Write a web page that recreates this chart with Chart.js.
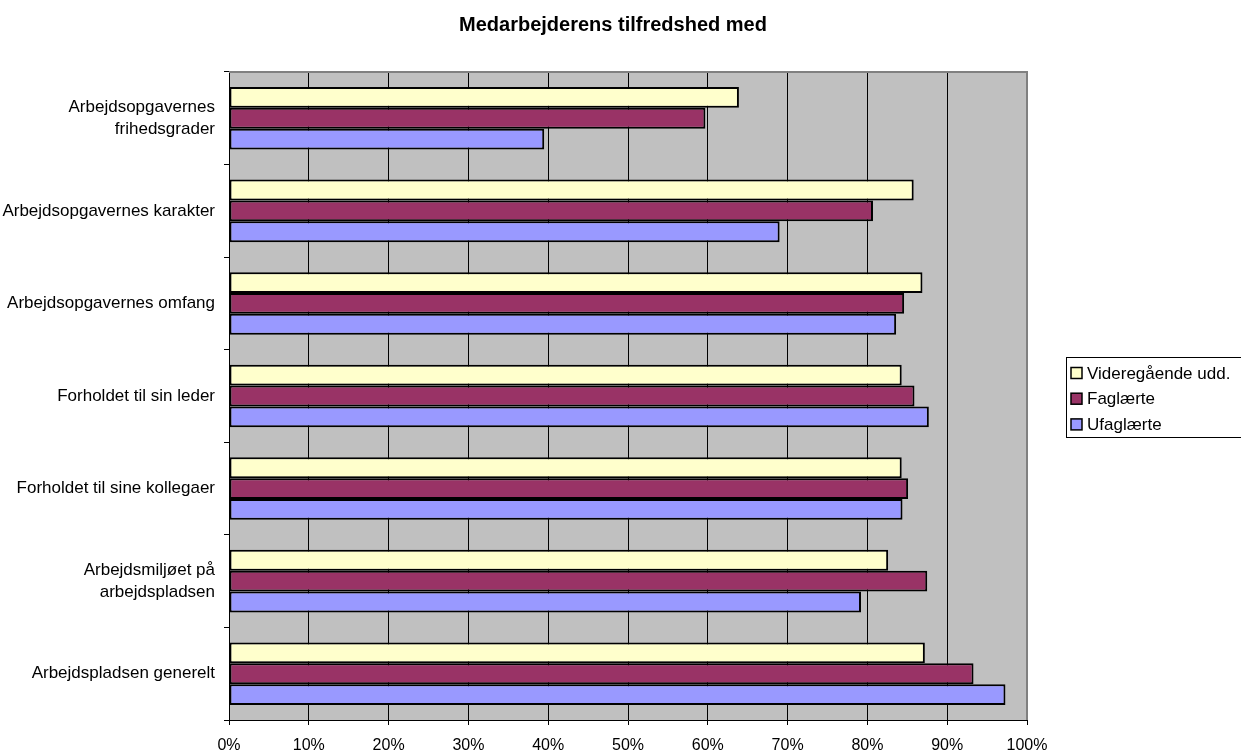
<!DOCTYPE html>
<html>
<head>
<meta charset="utf-8">
<script src="https://cdn.jsdelivr.net/npm/chart.js@4"></script>
<style>
  html, body { margin: 0; padding: 0; background: #fff; }
  #wrap { width: 1241px; height: 753px; position: relative; }
</style>
</head>
<body>
<div id="wrap"><canvas id="c" width="1241" height="753"></canvas></div>
<script>
const chartTitle = 'Medarbejderens tilfredshed med';
const categories = [
  ['Arbejdsopgavernes', 'frihedsgrader'],
  'Arbejdsopgavernes karakter',
  'Arbejdsopgavernes omfang',
  'Forholdet til sin leder',
  'Forholdet til sine kollegaer',
  ['Arbejdsmiljøet på', 'arbejdspladsen'],
  'Arbejdspladsen generelt'
];
const seriesNames = ['Videregående udd.', 'Faglærte', 'Ufaglærte'];
const videregaaende = [63.9, 85.8, 86.9, 84.3, 84.3, 82.6, 87.2];
const faglaerte     = [59.7, 80.7, 84.6, 85.9, 85.1, 87.5, 93.3];
const ufaglaerte    = [39.5, 69.0, 83.6, 87.7, 84.4, 79.2, 97.3];
const xTicks = [0, 10, 20, 30, 40, 50, 60, 70, 80, 90, 100];

const colors = ['#FFFFCC', '#993366', '#9999FF'];
const FONT = "'Liberation Sans', Arial, Helvetica, sans-serif";

const bgPlugin = {
  id: 'plotBg',
  beforeDraw(chart) {
    const { ctx, chartArea: a } = chart;
    ctx.save();
    ctx.fillStyle = '#C0C0C0';
    ctx.fillRect(a.left, a.top, a.right - a.left, a.bottom - a.top);
    ctx.restore();
  },
  afterDatasetsDraw(chart) {
    const { ctx, chartArea: a } = chart;
    ctx.save();
    ctx.strokeStyle = '#808080';
    ctx.lineWidth = 2;
    ctx.beginPath();
    ctx.moveTo(a.left, a.top);
    ctx.lineTo(a.right, a.top);
    ctx.lineTo(a.right, a.bottom);
    ctx.stroke();
    ctx.restore();
  }
};

const titleLegendPlugin = {
  id: 'titleLegend',
  afterDraw(chart) {
    const ctx = chart.ctx;
    ctx.save();
    ctx.fillStyle = '#000';
    ctx.font = 'bold 20px ' + FONT;
    ctx.textAlign = 'center';
    ctx.textBaseline = 'middle';
    ctx.fillText(chartTitle, 613, 25);

    // legend box
    ctx.strokeStyle = '#000';
    ctx.lineWidth = 1;
    ctx.strokeRect(1066.5, 357.5, 190, 80);
    ctx.font = '17px ' + FONT;
    ctx.textAlign = 'left';
    const ds = chart.data.datasets;
    ds.forEach((d, i) => {
      const cy = 373 + i * 25.7;
      ctx.fillStyle = d.backgroundColor;
      ctx.fillRect(1071, cy - 5.5, 11, 11);
      ctx.strokeStyle = '#000';
      ctx.lineWidth = 1.5;
      ctx.strokeRect(1071, cy - 5.5, 11, 11);
      ctx.fillStyle = '#000';
      ctx.fillText(d.label, 1087, cy + 1);
    });
    ctx.restore();
  }
};

new Chart(document.getElementById('c'), {
  type: 'bar',
  data: {
    labels: categories,
    datasets: [
      { label: seriesNames[0], data: videregaaende, backgroundColor: colors[0] },
      { label: seriesNames[1], data: faglaerte, backgroundColor: colors[1] },
      { label: seriesNames[2], data: ufaglaerte, backgroundColor: colors[2] }
    ]
  },
  options: {
    indexAxis: 'y',
    responsive: false,
    animation: false,
    devicePixelRatio: 1,
    layout: { padding: { top: 72, right: 214, bottom: 0, left: 0 } },
    datasets: {
      bar: {
        borderColor: '#000',
        borderWidth: 2,
        borderSkipped: false,
        categoryPercentage: 0.676,
        barPercentage: 1.0
      }
    },
    plugins: {
      legend: { display: false },
      title: { display: false },
      tooltip: { enabled: false }
    },
    scales: {
      x: {
        min: 0,
        max: 100,
        afterBuildTicks(scale) { scale.ticks = xTicks.map(v => ({ value: v })); },
        afterFit(scale) { scale.height = 33; },
        ticks: {
          callback: v => v + '%',
          color: '#000',
          font: { family: FONT, size: 16 },
          padding: 11,
          maxRotation: 0
        },
        grid: {
          color: ctx => (ctx.tick && ctx.tick.value === 100) ? 'rgba(0,0,0,0)' : '#000',
          lineWidth: 1,
          tickLength: 5,
          tickColor: '#000',
          drawOnChartArea: true
        },
        border: { display: true, color: '#000', width: 1 }
      },
      y: {
        afterFit(scale) { scale.width = 229; },
        ticks: {
          color: '#000',
          font: { family: FONT, size: 17, lineHeight: 1.3 },
          padding: 9
        },
        grid: {
          offset: true,
          drawOnChartArea: false,
          tickLength: 5,
          color: '#000',
          tickColor: '#000'
        },
        border: { display: true, color: '#000', width: 1 }
      }
    }
  },
  plugins: [bgPlugin, titleLegendPlugin]
});
</script>
</body>
</html>
